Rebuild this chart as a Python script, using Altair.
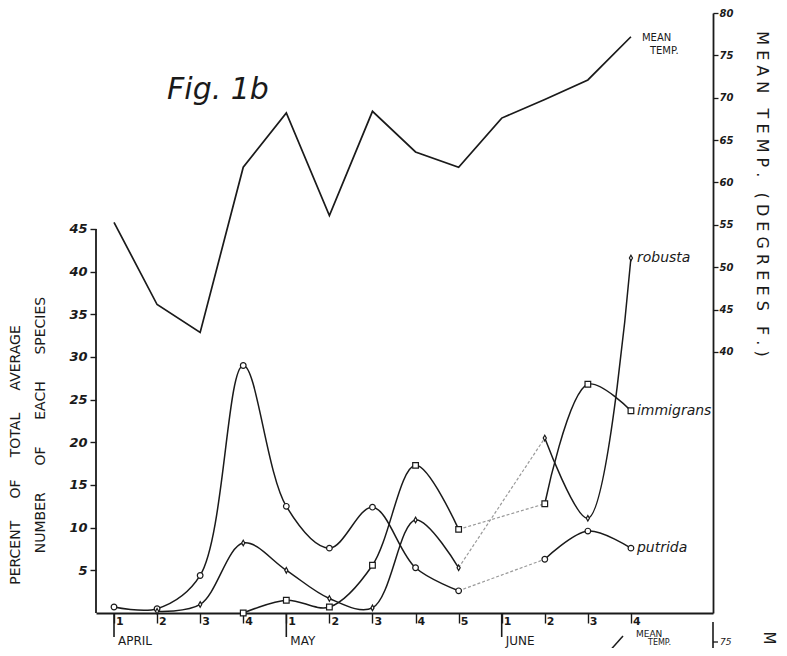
import altair as alt
import pandas as pd

# ---------------- data ----------------
week_labels = ["1", "2", "3", "4", "1", "2", "3", "4", "5", "1", "2", "3", "4"]
week_index = list(range(13))
months = ["APRIL", "MAY", "JUNE"]
month_start = [0, 4, 9]

species = ["putrida", "immigrans", "robusta"]
putrida = [0.7, 0.5, 4.4, 29.0, 12.5, 7.6, 12.4, 5.3, 2.6, None, 6.3, 9.6, 7.6]
immigrans = [None, None, None, 0.0, 1.5, 0.7, 5.6, 17.3, 9.8, None, 12.8, 26.8, 23.7]
robusta = [None, 0.2, 1.0, 8.2, 5.0, 1.7, 0.6, 10.9, 5.3, None, 20.5, 11.1, 41.6]
mean_temp = [55.3, 45.6, 42.3, 61.8, 68.2, 56.1, 68.4, 63.6, 61.8, 67.6, 69.8, 72.1, 77.2]

left_ticks = [5, 10, 15, 20, 25, 30, 35, 40, 45]
right_ticks = [40, 45, 50, 55, 60, 65, 70, 75, 80]

# ---------------- tables ----------------
series = {"putrida": putrida, "immigrans": immigrans, "robusta": robusta}
rows_solid, rows_dot, rows_pts = [], [], []
for name, vals in series.items():
    for i, v in enumerate(vals):
        if v is None:
            continue
        rows_pts.append({"sp": name, "i": i, "v": v})
        seg = "a" if i <= 8 else "b"
        rows_solid.append({"sp": name, "seg": name + seg, "i": i, "v": v})
        if i in (8, 10):
            rows_dot.append({"sp": name, "i": i, "v": v})
df_solid = pd.DataFrame(rows_solid)
df_dot = pd.DataFrame(rows_dot)
df_pts = pd.DataFrame(rows_pts)
df_end = pd.DataFrame([{"sp": n, "i": 12, "v": series[n][12]} for n in species])
df_temp = pd.DataFrame({"i": week_index, "t": mean_temp})
df_temp_end = df_temp.tail(1)
df_month = pd.DataFrame({"i": month_start, "m": months})
df_weeks = pd.DataFrame({"i": week_index, "w": week_labels})
df_leftaxis = pd.DataFrame({"v": [0], "v2": [left_ticks[-1]]})

FONT = "DejaVu Sans"
INK = "#1a1a1a"

x_enc = alt.X(
    "i:Q",
    scale=alt.Scale(domain=[-0.418, 13.905], nice=False, zero=False),
    axis=alt.Axis(values=week_index, labels=False, tickSize=10, grid=False, title=None,
                  domainColor=INK, domainWidth=1.8, tickColor=INK, tickWidth=1.4),
)

left_scale = alt.Scale(domain=[0, 70.31], nice=False, zero=False)
left_axis = alt.Axis(values=left_ticks, domain=False, tickSize=6, tickWidth=1.4, tickColor=INK,
                     labelPadding=3, grid=False, title=None, labelFont=FONT, labelFontSize=13,
                     labelFontStyle="italic", labelFontWeight="bold", labelColor=INK)


def yl(field):
    return alt.Y(field + ":Q", scale=left_scale, axis=left_axis)


shape_scale = alt.Scale(domain=species,
                        range=["circle", "square", "M0,-1L0.55,0L0,1L-0.55,0Z"])

left_rule = alt.Chart(df_leftaxis).mark_rule(color=INK, strokeWidth=1.8).encode(
    x=alt.value(0), y=yl("v"), y2="v2")

solid = alt.Chart(df_solid).mark_line(interpolate="catmull-rom", color=INK, strokeWidth=1.5).encode(
    x=x_enc, y=yl("v"), detail="seg:N")

dotted = alt.Chart(df_dot).mark_line(interpolate="linear", color="#9a9a9a", strokeWidth=1.2,
                                     strokeDash=[3, 2]).encode(
    x=x_enc, y=yl("v"), detail="sp:N")

points = alt.Chart(df_pts).mark_point(filled=True, fill="white", stroke=INK, strokeWidth=1.2,
                                      size=32, opacity=1).encode(
    x=x_enc, y=yl("v"),
    shape=alt.Shape("sp:N", scale=shape_scale, legend=None))

sp_labels = alt.Chart(df_end).mark_text(align="left", baseline="middle", dx=6, font=FONT,
                                        fontSize=14, fontStyle="italic", color=INK).encode(
    x=x_enc, y=yl("v"), text="sp:N")

week_text = alt.Chart(df_weeks).mark_text(align="left", baseline="top", dx=2, font=FONT,
                                          fontSize=11, fontWeight="bold", color=INK).encode(
    x=x_enc, y=alt.value(603), text="w:N")

month_ticks = alt.Chart(df_month).mark_rule(color=INK, strokeWidth=1.6).encode(
    x=x_enc, y=alt.value(600), y2=alt.value(624))

month_text = alt.Chart(df_month).mark_text(align="left", baseline="middle", dx=4, font=FONT,
                                           fontSize=12, color=INK).encode(
    x=x_enc, y=alt.value(628), text="m:N")

left_group = alt.layer(left_rule, dotted, solid, points, sp_labels, week_text, month_ticks, month_text)

temp_y = alt.Y("t:Q", scale=alt.Scale(domain=[9.2, 80], nice=False, zero=False),
               axis=alt.Axis(orient="right", values=right_ticks, tickSize=5, tickWidth=1.3,
                             tickColor=INK, domainColor=INK, domainWidth=1.8, labelPadding=1,
                             grid=False, title=None, labelFont=FONT, labelFontSize=10,
                             labelFontStyle="italic", labelFontWeight="bold", labelColor=INK))

temp_line = alt.Chart(df_temp).mark_line(interpolate="linear", color=INK, strokeWidth=1.7).encode(
    x=x_enc, y=temp_y)
temp_lab1 = alt.Chart(df_temp_end).mark_text(align="left", baseline="middle", dx=11, dy=1,
                                             font=FONT, fontSize=10, color=INK).encode(
    x=x_enc, y=temp_y, text=alt.value("MEAN"))
temp_lab2 = alt.Chart(df_temp_end).mark_text(align="left", baseline="middle", dx=19, dy=14,
                                             font=FONT, fontSize=10, color=INK).encode(
    x=x_enc, y=temp_y, text=alt.value("TEMP."))
temp_group = alt.layer(temp_line, temp_lab1, temp_lab2)

# ---------------- titles and decorations ----------------
def txt(text, x, y, size, angle=0, style="normal", weight="normal", align="center"):
    return alt.Chart(pd.DataFrame({"a": [0]})).mark_text(
        text=text, font=FONT, fontSize=size, angle=angle, fontStyle=style, fontWeight=weight,
        align=align, baseline="middle", color=INK).encode(x=alt.value(x), y=alt.value(y))

NB = "\u00a0"


def spaced(words, letter_gap, word_gap):
    return (NB * word_gap).join((NB * letter_gap).join(w) if letter_gap else w for w in words)


fig_title = txt("Fig." + NB + "1b", 122, 77, 30, style="italic", weight=200)
ltitle1 = txt(spaced(["PERCENT", "OF", "TOTAL", "AVERAGE"], 0, 5), -80, 442, 14, angle=270)
ltitle2 = txt(spaced(["NUMBER", "OF", "EACH", "SPECIES"], 0, 6), -55, 412, 14, angle=270)
rtitle = txt(spaced(["MEAN", "TEMP.", "(DEGREES", "F.)"], 1, 3), 666, 181, 16, angle=90)

# fragment of the next figure visible at the bottom edge
frag_axis = alt.Chart(pd.DataFrame({"a": [0]})).mark_rule(color=INK, strokeWidth=1.6).encode(
    x=alt.value(617), y=alt.value(609), y2=alt.value(640))
frag_tick = alt.Chart(pd.DataFrame({"a": [0]})).mark_rule(color=INK, strokeWidth=1.3).encode(
    x=alt.value(617), x2=alt.value(622), y=alt.value(629))
frag_line = alt.Chart(pd.DataFrame({"a": [0]})).mark_rule(color=INK, strokeWidth=1.5).encode(
    x=alt.value(527), x2=alt.value(511), y=alt.value(623), y2=alt.value(641))
frag_t1 = txt("MEAN", 540, 621, 9, align="left")
frag_t2 = txt("TEMP.", 552, 630, 8, align="left")
frag_75 = txt("75", 624, 629, 9, style="italic", align="left")
frag_M = txt("M", 673, 625, 15, angle=90)

chart = alt.layer(
    left_group, temp_group,
    fig_title, ltitle1, ltitle2, rtitle,
    frag_axis, frag_tick, frag_line, frag_t1, frag_t2, frag_75, frag_M,
).resolve_scale(y="independent").properties(
    width=617, height=600,
    padding={"left": 88, "top": 5, "right": 66, "bottom": 35},
    autosize=alt.AutoSizeParams(type="none"),
    background="white",
).configure_view(stroke=None)

chart.save("out.html", embed_options={"renderer": "svg", "actions": False})
